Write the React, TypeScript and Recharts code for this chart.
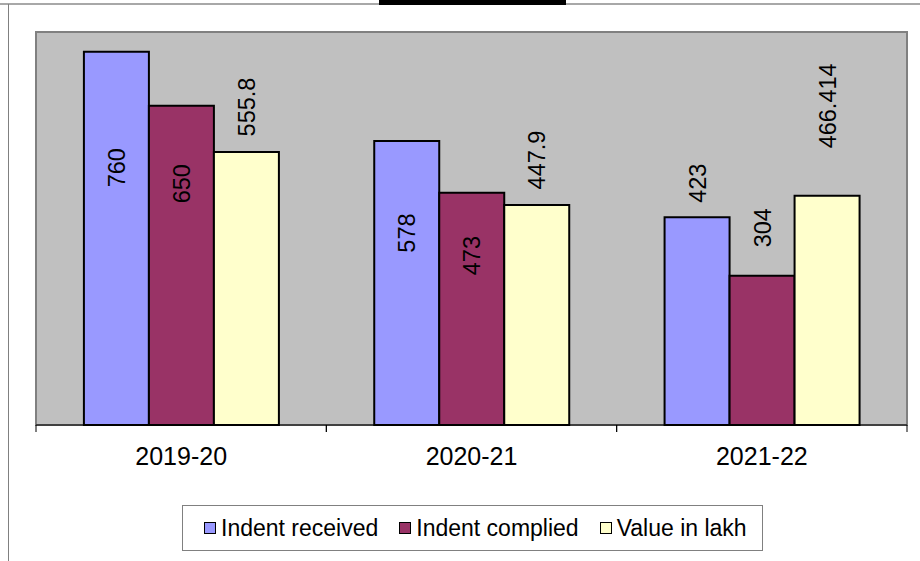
import React from 'react';
import { BarChart, Bar, XAxis, YAxis, ReferenceArea, LabelList, Legend } from 'recharts';

const categories = ['2019-20', '2020-21', '2021-22'];
const indentReceived = [760, 578, 423];
const indentComplied = [650, 473, 304];
const valueInLakh = [555.8, 447.9, 466.414];
const seriesNames = ['Indent received', 'Indent complied', 'Value in lakh'];
const seriesKeys = ['received', 'complied', 'value'];
const yDomain: [number, number] = [0, 800];

const data = categories.map((c, i) => ({
  category: c,
  received: indentReceived[i],
  complied: indentComplied[i],
  value: valueInLakh[i],
}));

// layout / style constants
const W = 920;
const H = 561;
const MARGIN = { top: 32, right: 13, bottom: 96, left: 36 };
const XAXIS_H = 40;
const PLOT_W = W - MARGIN.left - MARGIN.right;
const FONT = '"Liberation Sans", Arial, Helvetica, sans-serif';
const COLORS = ['#9999FF', '#993366', '#FFFFCC'];
// vertical shift (px) of each label centre relative to its bar top
const LABEL_SHIFT = [
  [116, 92, -34],
  [78, 63, -48],
  [-45, -45, -90],
];

const CategoryTick = (props: any) => {
  const { x, y, payload } = props;
  const half = PLOT_W / categories.length / 2;
  return (
    <g>
      <line x1={x - half} x2={x - half} y1={y} y2={y + 7} stroke="#000" strokeWidth={1} />
      <line x1={x + half} x2={x + half} y1={y} y2={y + 7} stroke="#000" strokeWidth={1} />
      <text x={x} y={y + 40} textAnchor="middle" fontSize={25} fontFamily={FONT} fill="#000">
        {payload.value}
      </text>
    </g>
  );
};

const makeLabel = (seriesIdx: number) => (props: any) => {
  const { x, y, width, value, index } = props;
  const cx = Number(x) + Number(width) / 2;
  const cy = Number(y) + LABEL_SHIFT[seriesIdx][index];
  return (
    <text
      x={cx}
      y={cy}
      dy="0.36em"
      transform={`rotate(-90 ${cx} ${cy})`}
      textAnchor="middle"
      fontSize={23.5}
      fontFamily={FONT}
      fill="#000"
    >
      {value}
    </text>
  );
};

const LegendBox = () => (
  <div
    style={{
      boxSizing: 'border-box',
      width: 581,
      height: 46,
      border: '1px solid #808080',
      background: '#fff',
      display: 'flex',
      alignItems: 'center',
      paddingLeft: 21,
      fontFamily: FONT,
      fontSize: 23,
      color: '#000',
      whiteSpace: 'nowrap',
    }}
  >
    {seriesNames.map((name, i) => (
      <div key={name} style={{ display: 'flex', alignItems: 'center', marginRight: 21 }}>
        <span
          style={{
            display: 'inline-block',
            boxSizing: 'border-box',
            width: 12,
            height: 12,
            border: '1.5px solid #000',
            background: COLORS[i],
            marginRight: 5,
          }}
        />
        <span style={{ lineHeight: '26px' }}>{name}</span>
      </div>
    ))}
  </div>
);

export default function App() {
  return (
    <div style={{ position: 'absolute', left: 0, top: 0, width: W, height: H, background: '#fff' }}>
      <div style={{ position: 'absolute', left: 0, top: 3, width: W, height: 2, background: '#A8A8A8' }} />
      <div style={{ position: 'absolute', left: 8, top: 4, width: 1, height: H - 4, background: '#808080' }} />
      <div style={{ position: 'absolute', left: 379, top: 0, width: 187, height: 5, background: '#000' }} />
      <div style={{ position: 'absolute', left: 0, top: 0 }}>
        <BarChart
          width={W}
          height={H}
          data={data}
          margin={MARGIN}
          barCategoryGap="16.5%"
          barGap={0}
        >
          <YAxis hide domain={yDomain} type="number" />
          <ReferenceArea
            y1={yDomain[0]}
            y2={yDomain[1]}
            fill="#C0C0C0"
            fillOpacity={1}
            stroke="#808080"
            strokeWidth={2}
            ifOverflow="visible"
          />
          <XAxis
            dataKey="category"
            height={XAXIS_H}
            interval={0}
            tickLine={false}
            tickSize={0}
            tickMargin={0}
            axisLine={{ stroke: '#000', strokeWidth: 1 }}
            tick={<CategoryTick />}
          />
          {seriesKeys.map((k, i) => (
            <Bar
              key={k}
              dataKey={k}
              name={seriesNames[i]}
              fill={COLORS[i]}
              stroke="#000"
              strokeWidth={2}
              isAnimationActive={false}
            >
              <LabelList dataKey={k} content={makeLabel(i)} />
            </Bar>
          ))}
          <Legend
            layout="horizontal"
            verticalAlign="middle"
            align="center"
            content={() => <LegendBox />}
            wrapperStyle={{ position: 'absolute', left: 182, top: 505, width: 581, height: 46 }}
          />
        </BarChart>
      </div>
    </div>
  );
}
